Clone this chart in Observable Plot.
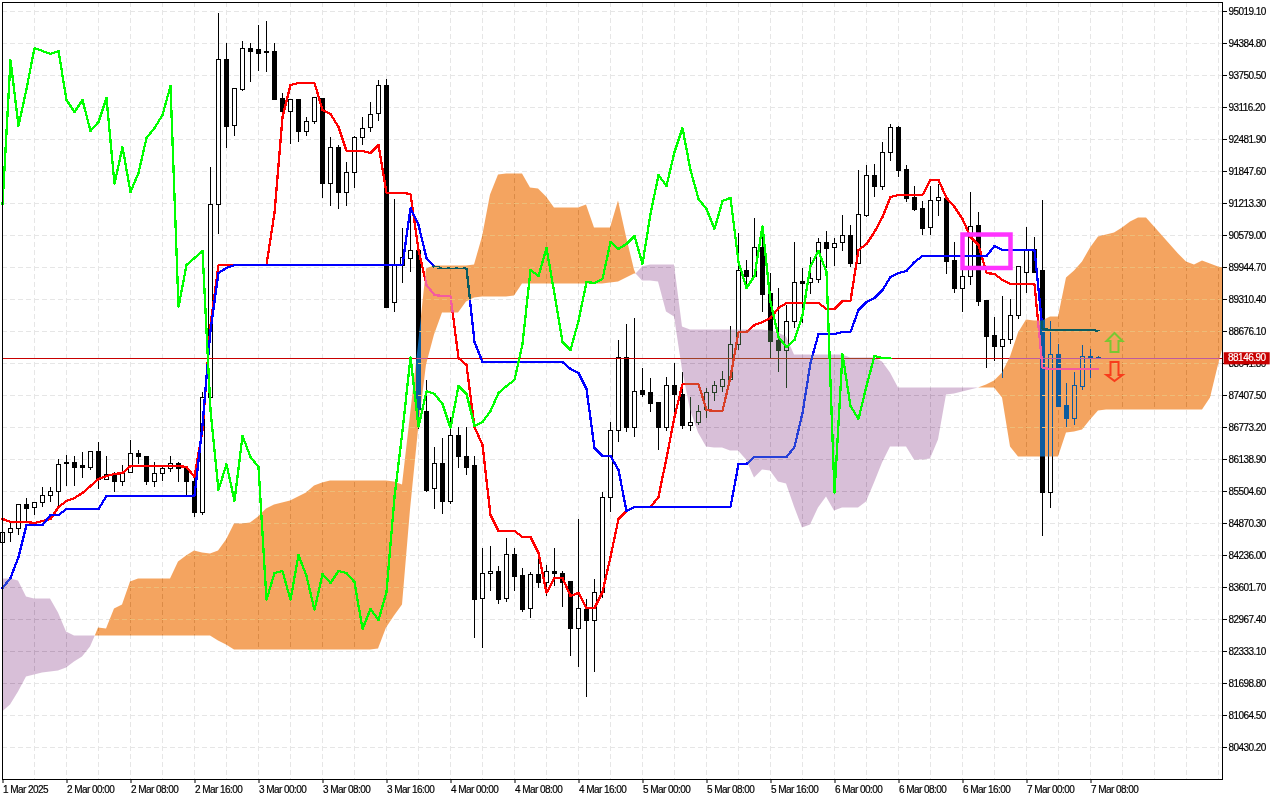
<!DOCTYPE html>
<html><head><meta charset="utf-8">
<script src="https://cdn.jsdelivr.net/npm/d3@7"></script>
<script src="https://cdn.jsdelivr.net/npm/@observablehq/plot@0.6"></script>
<style>html,body{margin:0;padding:0;background:#fff}svg{display:block}
g[aria-label="x-axis tick label"] text,g[aria-label="y-axis tick label"] text{stroke:#000;stroke-width:.18px}</style>
</head><body><div id="chart"></div>
<script>
const candleOpen=[84484,84682,84762,85237,85178,85296,85435,85495,86070,86070,86010,85990,86307,85752,85832,85693,85891,86248,86208,85693,85852,85951,86050,85951,85693,85079,87377,91184,94058,92769,93463,94276,94256,94197,94236,93285,93027,93265,92650,92829,93285,91600,92333,91441,91818,92512,92710,92988,93543,89260,89994,90114,90272,87100,85573,86050,85316,86605,86208,86010,83374,83889,83928,83393,84246,83849,83176,83869,83691,83928,83889,83730,82798,83156,82957,83512,85395,86704,88170,86783,87516,87457,87259,86764,87596,87437,86803,86882,87120,87457,87576,87715,88428,89895,89776,90332,89439,88488,88309,88884,89677,89657,89697,90450,90332,90431,90569,90014,90985,91778,91560,92234,92729,91897,91323,91124,90728,91263,91303,90074,89538,89776,90787,89300,88587,88369,88508,89003,89855,90292,89895,85475,88230,87219,86942,87576,88190,88170];
const candleHigh=[84741,84900,85237,85356,85296,85574,85574,86129,86228,86189,86287,86307,86466,86189,85891,86010,86525,86327,86208,86089,85990,86189,86070,85970,85792,87476,91936,94970,94375,93502,94415,94375,94732,94811,94375,93384,93265,93265,92908,93304,93285,92531,92353,92035,92551,92908,93225,93661,93681,91283,90727,91124,90411,87695,86386,86546,86981,86783,86783,86189,84365,84424,84008,84582,84365,83988,83908,84167,84028,84365,83928,83730,84940,83354,83770,85494,86882,88488,88805,88924,87933,87735,87259,87774,88032,87854,87377,87219,87556,87675,87893,88785,90628,90093,90906,90787,89816,89519,89201,90450,89915,90133,90529,90668,90529,90985,90787,91877,91976,91996,92413,92789,92749,91976,91560,91243,91541,91580,91303,90450,90093,91422,91025,89300,88944,89360,89320,89974,90747,90549,91263,88884,88428,87655,87854,88408,88329,88190];
const candleLow=[84444,84503,84642,84880,85019,85178,85277,85217,85613,85613,85753,85911,85554,85732,85475,85613,85871,86030,85633,85593,85712,85891,85673,85435,84999,85019,86922,90589,92294,92551,93443,93602,93839,93800,93245,92868,92373,92413,92533,92789,91303,91144,91104,91144,91501,92353,92611,92829,89122,89062,89637,89855,86724,85494,85138,85039,85237,85951,85812,82600,82402,83532,83255,83295,83532,83097,82997,83572,83433,83631,83215,82224,82025,81431,81907,83374,85098,86466,86665,86565,87377,87061,86327,86684,87080,86724,86684,86803,86942,87298,87476,87715,88309,89538,89736,89062,88131,87873,87556,88726,88825,89419,89637,89915,89974,90252,89954,90014,90926,91342,91461,92055,91738,91224,91064,90569,90569,90946,89796,89439,89062,89578,89162,87952,88091,87754,88428,88904,89439,89835,84603,85158,87199,86744,86803,87516,87754,88130];
const candleClose=[84682,84762,85237,85158,85296,85435,85495,86030,86050,85990,85990,86307,85752,85832,85693,85891,86248,86208,85693,85852,85951,86050,85951,85693,85079,87377,91184,94058,92749,93483,94295,94236,94177,94236,93265,93027,93265,92650,92829,93305,91600,92333,91441,91818,92512,92709,92968,93543,89161,89994,90133,90272,87120,85534,86050,85316,86605,86189,85990,83354,83889,83928,83354,84246,83829,83156,83869,83691,83928,83889,83710,82779,83176,82957,83512,85395,86704,88170,86783,87496,87437,87239,86764,87596,87437,86803,86882,87100,87457,87596,87715,88428,89895,89776,90332,89419,88468,88309,88884,89657,89637,89717,90450,90312,90411,90569,90014,91005,91778,91560,92234,92710,91877,91303,91104,90708,91263,91323,90054,89538,89776,90767,89261,88568,88369,88508,89003,89974,90272,89855,85475,88230,87199,86942,87596,88190,88150,88146.9];
const tenkan=[84960,84900,84900,84900,84880,84920,84960,85197,85316,85376,85475,85613,85752,85812,85852,85871,86010,86010,86010,86010,86010,86010,86010,85990,85792,86724,88805,89994,89994,89994,89994,89994,89994,89994,91025,92928,93562,93602,93602,93602,93067,92987,92729,92254,92254,92254,92214,92373,91422,91422,91422,91402,90292,89598,89400,89380,89380,88151,88012,86783,86426,85039,84721,84721,84721,84602,84602,84285,83493,83790,83790,83433,83493,83195,83195,83512,84206,84960,85118,85197,85197,85197,85395,86169,86981,87635,87635,87635,87120,87100,87100,87774,88666,88666,88805,88864,88944,89142,89241,89241,89241,89241,89241,89122,89122,89280,89280,90292,90411,90649,90946,91342,91382,91382,91382,91382,91679,91679,91323,91144,90906,90549,90391,89836,89816,89697,89618,89618,89618,89618,87953,87933,87933,87933,87933,87933,87933,87933];
const kijun=[83591,83790,84206,84841,84841,84841,85039,85039,85158,85158,85158,85158,85158,85415,85415,85415,85415,85415,85415,85415,85415,85415,85415,85415,85415,86823,88706,89835,89935,89994,89994,89994,89994,89994,89994,89994,89994,89994,89994,89994,89994,89994,89994,89994,89994,89994,89994,89994,89994,89994,89994,91124,90787,90133,89954,89935,89935,89935,89935,88468,88071,88071,88071,88071,88071,88071,88071,88071,88071,88071,88071,87933,87853,87536,86367,86208,86208,85931,85118,85197,85197,85197,85197,85197,85197,85197,85197,85197,85197,85197,85197,85197,86050,86050,86189,86189,86189,86189,86189,86387,87061,88052,88627,88627,88627,88666,88666,89102,89261,89340,89499,89757,89836,89875,90054,90173,90173,90173,90173,90173,90173,90173,90173,90173,90371,90292,90292,90292,90292,90292,88726,88706,88706,88706,88706,88706,88706,88686];
const purpleAK=[0,1,2,3,4,5,6,7,8,9,10,11,11.6];
const purpleATop=[83770,83770,83730,83413,83374,83374,83374,83097,82720,82640,82640,82640,82640];
const purpleABottom=[81133,81273,81530,81827,81867,81907,81926,81946,82005,82124,82224,82422,82640];
const orangeBK=[11.6,12,13,14,15,16,17,18,19,20,21,22,23,24,25,26,27,28,29,30,31,32,33,34,35,36,37,38,39,40,41,42,43,44,45,46,47,48,49,50,51,52,53,54,55,56,57,58,59,60,61,62,63,64,65,66,67,68,69,70,71,72,73,74,75,76,77,78,79,79.2];
const orangeBTop=[82640,82799,82779,83176,83255,83710,83770,83770,83770,83770,83770,84107,84226,84325,84285,84266,84325,84543,84860,84860,84880,84999,85158,85237,85277,85316,85395,85475,85613,85673,85712,85712,85712,85712,85712,85712,85712,85712,85693,85633,87021,88408,89915,89974,89974,89974,89974,89974,89994,90549,91382,91778,91798,91798,91798,91521,91501,91342,91124,91124,91124,91124,91184,90728,90728,90728,91263,90549,89895,89816];
const orangeBBottom=[82640,82640,82640,82640,82640,82640,82640,82640,82640,82640,82640,82640,82640,82640,82640,82640,82541,82462,82363,82363,82363,82363,82363,82363,82363,82363,82363,82363,82363,82363,82363,82363,82363,82363,82363,82363,82383,82799,83037,83255,85138,86724,88012,88607,89043,89043,89043,89261,89340,89360,89360,89360,89360,89380,89618,89618,89618,89618,89618,89618,89618,89618,89618,89618,89618,89637,89657,89736,89816,89816];
const purpleBK=[79.2,80,81,82,83,84,85,86,87,88,89,90,91,92,93,94,95,96,97,98,99,100,101,102,103,104,105,106,107,108,109,110,111,112,113,114,115,116,117,118,119,120,121,122];
const purpleBTop=[89816,89955,89994,89994,89994,89994,88765,88706,88706,88706,88706,88706,88706,88706,88706,88706,88706,88686,88646,88567,88210,88210,88210,88210,88210,88210,88210,88151,88151,88151,88151,88072,87853,87556,87556,87556,87556,87556,87556,87556,87556,87556,87556,87556];
const purpleBBottom=[89816,89677,89677,89657,89062,88963,87913,87120,86664,86387,86367,86367,86307,86307,86129,85772,85931,85911,85693,85653,85197,84781,84841,85178,85395,85118,85178,85178,85178,85296,85673,86070,86387,86387,86387,86129,86129,86149,86525,87417,87437,87476,87516,87556];
const orangeCK=[122,123,124,125,126,127,128,129,130,131,132,133,134,135,136,137,138,139,140,141,142,143,144,145,146,147,148,149,150,151,152,152.5];
const orangeCTop=[87556,87615,87695,87853,88171,88646,88904,88884,88884,88963,88963,89736,89875,90054,90332,90549,90589,90628,90728,90847,90926,90926,90747,90569,90391,90212,90054,89994,90074,90014,89955,89935];
const orangeCBottom=[87556,87556,87556,87358,86387,86189,86189,86189,86189,86189,86189,86664,86684,86724,86922,87100,87120,87120,87120,87120,87120,87120,87120,87120,87120,87120,87120,87120,87120,87358,88012,88309];
const priceTicks=[95019.10,94384.80,93750.50,93116.20,92481.90,91847.60,91213.30,90579.00,89944.70,89310.40,88676.10,88041.80,87407.50,86773.20,86138.90,85504.60,84870.30,84236.00,83601.70,82967.40,82333.10,81698.80,81064.50,80430.20];
const timeLabels=["1 Mar 2025","2 Mar 00:00","2 Mar 08:00","2 Mar 16:00","3 Mar 00:00","3 Mar 08:00","3 Mar 16:00","4 Mar 00:00","4 Mar 08:00","4 Mar 16:00","5 Mar 00:00","5 Mar 08:00","5 Mar 16:00","6 Mar 00:00","6 Mar 08:00","6 Mar 16:00","7 Mar 00:00","7 Mar 08:00"];
const lastPrice=88146.90;
const barsPerLabel=8, barsPerGrid=4, chikouShift=26;
const markBox={k1:120,k2:126,top:90598,bottom:89935};

const idx=d3.range(candleOpen.length);
const up=idx.filter(i=>candleClose[i]>=candleOpen[i]);
const down=idx.filter(i=>candleClose[i]<candleOpen[i]);
const halfBody=0.25;
const INK={fill:"black",stroke:"black"};
function cloud(ks,top,bottom,fill){
  return Plot.areaY(d3.range(ks.length),{x:i=>ks[i],y1:i=>top[i],y2:i=>bottom[i],fill,mixBlendMode:"difference"});
}
const upArrow={draw(c){c.moveTo(0,-9);c.lineTo(8,-1);c.lineTo(4,-1);c.lineTo(4,10);c.lineTo(-4,10);c.lineTo(-4,-1);c.lineTo(-8,-1);c.closePath();}};
const downArrow={draw(c){c.moveTo(0,10);c.lineTo(8,4);c.lineTo(4,4);c.lineTo(4,-9);c.lineTo(-4,-9);c.lineTo(-4,4);c.lineTo(-8,4);c.closePath();}};
const crisp={shapeRendering:"crispEdges"};

// Pale dashes over the orange cloud only: the marks are clipped to the orange bands through the plot's own scales.
const ORANGE_CLIP="orange-cloud-clip";
function clipToOrange(index,scales,values,dimensions,context,next){
  const g=next(index,scales,values,dimensions,context);
  const doc=context.document||document;
  const NS="http://www.w3.org/2000/svg";
  if(!context.ownerSVGReady){
    const cp=doc.createElementNS(NS,"clipPath");
    cp.setAttribute("id",ORANGE_CLIP);
    for(const [ks,top,bottom] of [[orangeBK,orangeBTop,orangeBBottom],[orangeCK,orangeCTop,orangeCBottom]]){
      const path=doc.createElementNS(NS,"path");
      path.setAttribute("d",d3.area().x(i=>scales.x(ks[i])).y0(i=>scales.y(top[i])).y1(i=>scales.y(bottom[i]))(d3.range(ks.length)));
      cp.append(path);
    }
    g.append(cp);
  }
  g.setAttribute("clip-path",`url(#${ORANGE_CLIP})`);
  return g;
}
const candleColumns=new Set([52,132,136]);

const plot=Plot.plot({
  width:1280,height:800,marginLeft:2,marginRight:58,marginTop:2,marginBottom:21,
  style:{fontFamily:"'Liberation Sans',sans-serif",fontSize:"10px",letterSpacing:"-0.55px",background:"#fff",color:"#000"},
  x:{domain:[0,152.5],range:[2,1222],axis:null},
  y:{domain:[79795.8,95197.4],range:[779,2],axis:null},
  marks:[
    Plot.ruleX(d3.range(barsPerGrid,153,barsPerGrid),{x:d=>d,stroke:"#e6e6e6",strokeDasharray:"5,3"}),
    Plot.ruleY(priceTicks,{y:d=>d,stroke:"#e6e6e6",strokeDasharray:"5,3"}),
    Plot.ruleX(idx,{x:i=>i,y1:i=>candleLow[i],y2:i=>candleHigh[i],stroke:"black",...crisp}),
    Plot.rect(up,{x1:i=>i-halfBody,x2:i=>i+halfBody,y1:i=>candleOpen[i],y2:i=>candleClose[i],fill:"white",stroke:"black",dx:0.5,dy:0.5,...crisp}),
    Plot.rect(down,{x1:i=>i-halfBody,x2:i=>i+halfBody,y1:i=>candleOpen[i],y2:i=>candleClose[i],...INK,dx:0.5,dy:0.5,...crisp}),
    Plot.ruleY([lastPrice],{stroke:"#c80000",...crisp}),
    Plot.line(idx,{x:i=>i,y:i=>tenkan[i],stroke:"#ff0000",strokeWidth:2.3,...crisp}),
    Plot.line(idx,{x:i=>i,y:i=>kijun[i],stroke:"#0000ff",strokeWidth:2.3,...crisp}),
    cloud(purpleAK,purpleATop,purpleABottom,"#274027"),
    cloud(orangeBK,orangeBTop,orangeBBottom,"#0b5b9f"),
    cloud(purpleBK,purpleBTop,purpleBBottom,"#274027"),
    cloud(orangeCK,orangeCTop,orangeCBottom,"#0b5b9f"),
    Plot.ruleY(priceTicks,{y:d=>d,stroke:"#edbd79",strokeDasharray:"5,3",mixBlendMode:"lighten",render:clipToOrange}),
    Plot.line(idx.filter(i=>i>=chikouShift),{x:i=>i-chikouShift,y:i=>candleClose[i],stroke:"#00ff00",strokeWidth:2.3,...crisp}),
    Plot.rect([markBox],{x1:d=>d.k1,x2:d=>d.k2,y1:d=>d.top,y2:d=>d.bottom,fill:"none",stroke:"#ff33ff",strokeWidth:4.5,dx:0.5,dy:0.5}),
    Plot.dot([{k:139,p:88468}],{x:"k",y:"p",r:1,symbol:upArrow,fill:"none",stroke:"#78c832",strokeWidth:2}),
    Plot.dot([{k:139,p:87893}],{x:"k",y:"p",r:1,symbol:downArrow,fill:"none",stroke:"#f83c1c",strokeWidth:2}),
    Plot.frame({stroke:"black"}),
    Plot.axisX(timeLabels.map((_,i)=>i*barsPerLabel),{anchor:"bottom",tickSize:4,tickPadding:2,textAnchor:"start",dx:0.5,label:null,tickFormat:d=>timeLabels[d/barsPerLabel],fill:"black",stroke:"black"}),
    Plot.axisY(priceTicks,{anchor:"right",tickSize:4,tickPadding:2,label:null,tickFormat:d=>d.toFixed(2),textAnchor:"start",fill:"black",stroke:"black"}),
    Plot.rect([lastPrice],{x1:152.65,x2:158.4,y1:d=>d+118,y2:d=>d-122,fill:"#c80000",dx:0.5,dy:0.5}),
    Plot.text([lastPrice],{x:153.2,y:d=>d,text:d=>d.toFixed(2),fill:"white",stroke:"white",strokeWidth:0.18,textAnchor:"start",clip:false})
  ]
});
document.getElementById("chart").append(plot);
</script></body></html>
